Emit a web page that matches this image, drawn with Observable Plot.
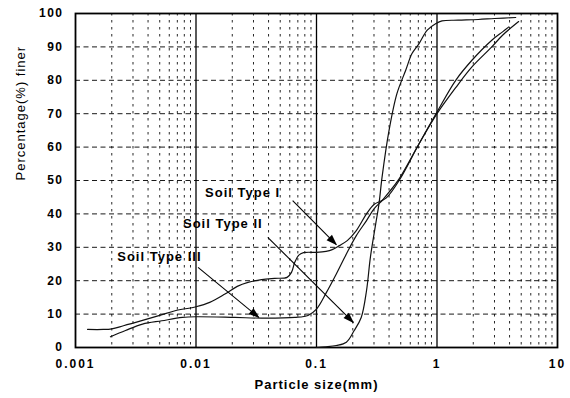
<!DOCTYPE html>
<html><head><meta charset="utf-8">
<script src="https://cdn.jsdelivr.net/npm/d3@7"></script>
<script src="https://cdn.jsdelivr.net/npm/@observablehq/plot@0.6"></script>
<style>
body{margin:0;background:#fff;}
#chart svg{display:block;}
</style>
</head><body><div id="chart"></div>
<script>
// ---- data (particle size in mm, percent finer) ----
const soilI = [[0.00126,5.4],[0.0017,5.4],[0.002,5.6],[0.0025,6.5],[0.0036,8.1],[0.005,9.6],[0.0067,11],[0.01,12.2],[0.013,13.5],[0.0174,16],[0.022,18.3],[0.027,19.5],[0.035,20.3],[0.045,20.7],[0.057,21],[0.062,22.5],[0.066,25.5],[0.071,27.6],[0.078,28.4],[0.1,28.5],[0.12,28.8],[0.135,29.3],[0.155,30.5],[0.18,32],[0.214,35],[0.26,40],[0.3,42.8],[0.34,43.8],[0.38,44.8],[0.485,50],[0.71,61],[1.0,70.5],[1.43,80],[1.95,86],[2.85,92],[3.5,94.5],[3.95,96]];
const soilII = [[0.1,0],[0.12,0.2],[0.146,0.6],[0.177,1.6],[0.205,5],[0.235,9],[0.26,17],[0.28,27],[0.31,37],[0.33,43],[0.35,51],[0.4,65],[0.465,76],[0.55,83],[0.62,88],[0.71,91],[0.83,95],[0.98,97],[1.1,97.8],[1.5,98],[2.2,98.2],[3,98.5],[4.5,98.8]];
const soilIII = [[0.00195,3.2],[0.0026,5.1],[0.0036,7],[0.0052,8],[0.0077,9],[0.01,9.2],[0.021,9],[0.035,8.8],[0.066,9],[0.085,9.6],[0.1,11.5],[0.121,16.5],[0.146,22],[0.177,28],[0.214,33.5],[0.26,38],[0.3,41.5],[0.35,44],[0.4,46.5],[0.485,50.5],[0.71,61],[1.0,70],[1.43,77.8],[1.95,84],[2.85,90],[3.5,93.5],[4.76,97.6]];

const seriesNames = ["Soil Type I", "Soil Type II", "Soil Type III"];
const labelPos = [[0.0119,46.4],[0.0078,37.1],[0.00222,27]];
// arrows: [x1, y1, x2, y2]
const arrowPos = [[0.0634,44,0.146,30.8],[0.0394,33,0.202,7.5],[0.0104,24,0.0332,9]];

const xTicks = [0.001, 0.01, 0.1, 1, 10];
const xTickLabels = ["0.001", "0.01", "0.1", "1", "10"];
const yTicks = [0,10,20,30,40,50,60,70,80,90,100];
const hGrid = [10,20,30,40,50,60,70,80,90];
const decadeLines = [0.01, 0.1, 1];
const minorMult = [2,3,4,5,6,7,8,9];
const minorGrid = [0.001,0.01,0.1,1].flatMap(d => minorMult.map(m => d*m));

const rows = [];
[soilI, soilII, soilIII].forEach((s, i) => s.forEach(([x, y]) => rows.push({soil: seriesNames[i], x, y})));
const labels = seriesNames.map((n, i) => ({text: n, x: labelPos[i][0], y: labelPos[i][1]}));
const arrows = arrowPos.map(([x1,y1,x2,y2]) => ({x1,y1,x2,y2}));

const chart = Plot.plot({
  width: 570, height: 398,
  marginLeft: 75, marginRight: 13, marginTop: 13, marginBottom: 51,
  style: {fontFamily: "'Liberation Sans', Arial, sans-serif", background: "#fff", color: "#000"},
  x: {type: "log", domain: [0.001, 10]},
  y: {domain: [0, 100]},
  marks: [
    Plot.ruleX(minorGrid, {stroke: "#000", strokeOpacity: 0.85, strokeDasharray: "2.5,4.5"}),
    Plot.ruleY(hGrid, {stroke: "#000", strokeOpacity: 0.9, strokeDasharray: "5,3.5"}),
    Plot.ruleX(decadeLines, {stroke: "#000", strokeWidth: 1.3}),
    Plot.frame({stroke: "#000", strokeWidth: 1.8}),
    Plot.axisX({ticks: xTicks, tickFormat: d => xTickLabels[xTicks.findIndex(t => Math.abs(t - d) < t*1e-6)], tickSize: 0, tickPadding: 12, fontSize: 12, fontWeight: "bold", label: null}),
    Plot.axisY({ticks: yTicks, tickSize: 0, tickPadding: 12, fontSize: 12, fontWeight: "bold", label: null}),
    Plot.line(rows, {x: "x", y: "y", z: "soil", curve: "catmull-rom", stroke: "#111", strokeWidth: 1.2}),
    Plot.link(arrows, {x1: "x1", y1: "y1", x2: "x2", y2: "y2", stroke: "#000", strokeWidth: 1.1, markerEnd: "arrow"}),
    Plot.text(labels, {x: "x", y: "y", text: "text", textAnchor: "start", fontSize: 13, fontWeight: "bold", fill: "#000"}),
    Plot.text(["Particle size(mm)"], {frameAnchor: "bottom", dy: 41, fontSize: 13, fontWeight: "bold", fill: "#000"}),
    Plot.text(["Percentage(%) finer"], {frameAnchor: "left", dx: -55, rotate: -90, fontSize: 13, fill: "#000"})
  ]
});
document.getElementById("chart").appendChild(chart);

const svg = d3.select(chart);
svg.selectAll('g[aria-label="x-axis tick label"] text').style("letter-spacing", "2px");
svg.selectAll('g[aria-label="y-axis tick label"] text').style("letter-spacing", "1.5px");
svg.selectAll('g[aria-label="text"] text').style("letter-spacing", "1px");
svg.selectAll("marker").each(function() {
  const m = d3.select(this);
  m.attr("viewBox", "-12 -6 14 12").attr("markerWidth", 14).attr("markerHeight", 12)
   .attr("markerUnits", "userSpaceOnUse")
   .attr("fill", "#000").attr("stroke", "none");
  m.selectAll("*").remove();
  m.append("path").attr("d", "M-10,-3.8L1,0L-10,3.8Z").attr("fill", "#000").attr("stroke", "none");
});
</script>
</body></html>
